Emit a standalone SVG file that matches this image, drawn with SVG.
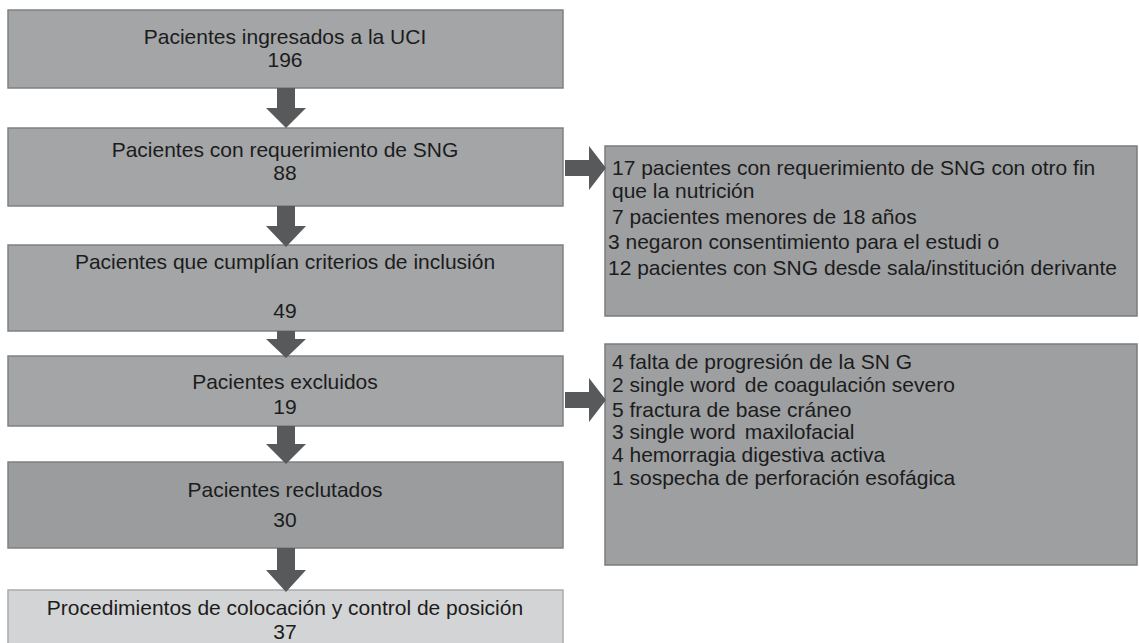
<svg xmlns="http://www.w3.org/2000/svg" width="1139" height="643" viewBox="0 0 1139 643">
<defs>
<style>
.box{fill:#a3a5a7;stroke:#7f8183;stroke-width:1.5}
.dark{fill:#9a9c9e}
.light{fill:#d3d4d5;stroke:#a9abad}
.side{fill:#9d9fa1;stroke:#7a7c7e;stroke-width:1.5}
.t{font-family:"Liberation Sans",Arial,Helvetica,sans-serif;font-size:21px;fill:#1c1c1c}
.c{text-anchor:middle}
.arr{fill:#58595b}
</style>
</defs>
<rect width="1139" height="643" fill="#ffffff"/>
<g id="n1"><rect class="box" x="8" y="10" width="555" height="78"/>
<text class="t c" x="285" y="44">Pacientes ingresados a la UCI</text>
<text class="t c" x="285" y="67">196</text></g>
<g id="n2"><rect class="box" x="8" y="128" width="555" height="78"/>
<text class="t c" x="285" y="157">Pacientes con requerimiento de SNG</text>
<text class="t c" x="285" y="180">88</text></g>
<g id="n3"><rect class="box" x="8" y="245" width="555" height="86"/>
<text class="t c" x="285" y="269">Pacientes que cumplían criterios de inclusión</text>
<text class="t c" x="285" y="318">49</text></g>
<g id="n4"><rect class="box" x="8" y="356" width="555" height="70"/>
<text class="t c" x="285" y="389">Pacientes excluidos</text>
<text class="t c" x="285" y="414">19</text></g>
<g id="n5"><rect class="box dark" x="8" y="462" width="555" height="86"/>
<text class="t c" x="285" y="497">Pacientes reclutados</text>
<text class="t c" x="285" y="527">30</text></g>
<g id="n6"><rect class="box light" x="8" y="590" width="555" height="60"/>
<text class="t c" x="285" y="615">Procedimientos de colocación y control de posición</text>
<text class="t c" x="285" y="639">37</text></g>
<g id="s1"><rect class="side" x="605" y="146" width="532" height="170"/>
<text class="t" x="612" y="175">17 pacientes con requerimiento de SNG con otro fin</text>
<text class="t" x="612" y="198">que la nutrición</text>
<text class="t" x="612" y="224">7 pacientes menores de 18 años</text>
<text class="t" x="608" y="249">3 negaron consentimiento para el estudi o</text>
<text class="t" x="608" y="275">12 pacientes con SNG desde sala/institución derivante</text></g>
<g id="s2"><rect class="side" x="605" y="344" width="532" height="221"/>
<text class="t" x="612" y="369">4 falta de progresión de la SN G</text>
<text class="t" x="612" y="392">2 single word<tspan dx="9">de coagulación severo</tspan></text>
<text class="t" x="612" y="417">5 fractura de base cráneo</text>
<text class="t" x="612" y="439">3 single word<tspan dx="9">maxilofacial</tspan></text>
<text class="t" x="612" y="462">4 hemorragia digestiva activa</text>
<text class="t" x="612" y="485">1 sospecha de perforación esofágica</text></g>
<g id="connectors">
<polygon class="arr" points="277,88 295,88 295,108 306,108 286,128 266,108 277,108"/>
<polygon class="arr" points="277,206 295,206 295,226 306,226 286,247 266,226 277,226"/>
<polygon class="arr" points="277,331 295,331 295,339 306,339 286,358 266,339 277,339"/>
<polygon class="arr" points="277,426 295,426 295,444 306,444 286,464 266,444 277,444"/>
<polygon class="arr" points="277,548 295,548 295,570 306,570 286,592 266,570 277,570"/>
<polygon class="arr" points="565,160 589,160 589,146 606,168 589,190 589,176 565,176"/>
<polygon class="arr" points="565,392 589,392 589,378 606,400 589,422 589,408 565,408"/>
</g>
</svg>
